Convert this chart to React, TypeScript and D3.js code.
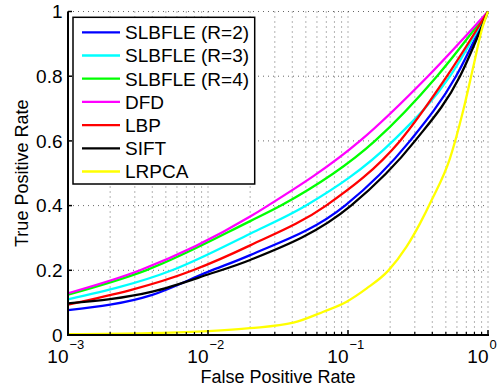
import React from "react";
import * as d3 from "d3";

const W = 501;
const H = 389;

const seriesNames = ["SLBFLE (R=2)", "SLBFLE (R=3)", "SLBFLE (R=4)", "DFD", "LBP", "SIFT", "LRPCA"];
const seriesColors = ["#0000ff", "#00ffff", "#00ff00", "#ff00ff", "#ff0000", "#000000", "#ffff00"];

// SLBFLE (R=2)
const r2Fpr = [0.001, 0.004, 0.01, 0.02, 0.0952, 0.2773, 0.5908, 1.0];
const r2Tpr = [0.077, 0.124, 0.195, 0.247, 0.4, 0.6, 0.8, 1.0];
// SLBFLE (R=3)
const r3Fpr = [0.001, 0.00553, 0.02, 0.0501, 0.2097, 0.5354, 1.0];
const r3Tpr = [0.11, 0.2, 0.313, 0.4, 0.6, 0.8, 1.0];
// SLBFLE (R=4)
const r4Fpr = [0.001, 0.0036, 0.02, 0.0332, 0.1559, 0.4322, 1.0];
const r4Tpr = [0.125, 0.2, 0.352, 0.4, 0.6, 0.8, 1.0];
// DFD
const dfdFpr = [0.001, 0.00327, 0.02, 0.0268, 0.1218, 0.3728, 1.0];
const dfdTpr = [0.129, 0.2, 0.366, 0.4, 0.6, 0.8, 1.0];
// LBP
const lbpFpr = [0.001, 0.00781, 0.02, 0.0697, 0.2352, 0.5093, 1.0];
const lbpTpr = [0.094, 0.2, 0.277, 0.4, 0.6, 0.8, 1.0];
// SIFT
const siftFpr = [0.001, 0.004, 0.01, 0.02, 0.1051, 0.3011, 0.631, 1.0];
const siftTpr = [0.098, 0.134, 0.187, 0.232, 0.4, 0.6, 0.8, 1.0];
// LRPCA
const lrpcaFpr = [0.001, 0.00385, 0.01, 0.0199, 0.0407, 0.0667, 0.0978, 0.136, 0.194, 0.262, 0.327, 0.396, 0.535, 0.667, 0.785, 0.902, 1.0];
const lrpcaTpr = [0.003, 0.006, 0.012, 0.021, 0.038, 0.072, 0.103, 0.144, 0.199, 0.273, 0.345, 0.417, 0.546, 0.696, 0.829, 0.943, 1.0];

const yTicks = [0, 0.2, 0.4, 0.6, 0.8, 1];
const yTickLabels = ["0", "0.2", "0.4", "0.6", "0.8", "1"];
const xDecades = [0.001, 0.01, 0.1, 1];
const xExponents = ["\u22123", "\u22122", "\u22121", "0"];

export default function App() {
  const left = 68, right = 488, top = 11.5, bottom = 335;
  const x = d3.scaleLog().domain([0.001, 1]).range([left, right]);
  const y = d3.scaleLinear().domain([0, 1]).range([bottom, top]);

  const series = [
    { fpr: r2Fpr, tpr: r2Tpr },
    { fpr: r3Fpr, tpr: r3Tpr },
    { fpr: r4Fpr, tpr: r4Tpr },
    { fpr: dfdFpr, tpr: dfdTpr },
    { fpr: lbpFpr, tpr: lbpTpr },
    { fpr: siftFpr, tpr: siftTpr },
    { fpr: lrpcaFpr, tpr: lrpcaTpr },
  ];

  const line = d3
    .line<[number, number]>()
    .x((d) => x(d[0]))
    .y((d) => y(d[1]))
    .curve(d3.curveMonotoneX);

  const minor: number[] = [];
  for (let k = -3; k < 0; k++) {
    for (let m = 2; m <= 9; m++) minor.push(m * Math.pow(10, k));
  }

  const font = "Arial, 'Liberation Sans', Helvetica, sans-serif";
  const gridStyle = { stroke: "#000", strokeWidth: 0.8, strokeDasharray: "1,4", strokeOpacity: 0.75 };

  const legendX = 73, legendY = 17.3, legendW = 181.7, legendH = 166.7;
  const rowY0 = 32.3, rowStep = 23.2;

  return (
    <svg
      width={W}
      height={H}
      style={{ position: "absolute", left: 0, top: 0, background: "#fff" }}
      fontFamily={font}
    >
      <rect x={0} y={0} width={W} height={H} fill="#fff" />
      {/* grid */}
      {[...xDecades, ...minor].map((v, i) => (
        <line key={"gx" + i} x1={x(v)} x2={x(v)} y1={top} y2={bottom} {...gridStyle} />
      ))}
      {yTicks.filter((v) => v > 0).map((v, i) => (
        <line key={"gy" + i} x1={left} x2={right} y1={y(v)} y2={y(v)} {...gridStyle} />
      ))}

      {/* curves */}
      {series.map((s, i) => (
        <path
          key={"s" + i}
          d={line(s.fpr.map((f, j) => [f, s.tpr[j]] as [number, number])) || ""}
          fill="none"
          stroke={seriesColors[i]}
          strokeWidth={2.3}
          strokeLinejoin="round"
        />
      ))}

      {/* axes */}
      <line x1={left} x2={left} y1={top} y2={bottom} stroke="#000" strokeWidth={2} />
      <line x1={left - 1} x2={right + 1} y1={bottom} y2={bottom} stroke="#000" strokeWidth={2} />
      {yTicks.map((v, i) => (
        <g key={"yt" + i}>
          <line x1={left} x2={left + 4} y1={y(v)} y2={y(v)} stroke="#000" strokeWidth={1.5} />
          <text x={62.5} y={y(v) + 6.8} fontSize={19} textAnchor="end" fill="#000">
            {yTickLabels[i]}
          </text>
        </g>
      ))}
      {xDecades.map((v, i) => (
        <g key={"xt" + i}>
          <line x1={x(v)} x2={x(v)} y1={bottom} y2={bottom - 5} stroke="#000" strokeWidth={1.5} />
          <text x={x(v) + 0.5} y={362.5} fontSize={19} textAnchor="end" fill="#000">
            10
          </text>
          <text x={x(v) + 1.5} y={348.5} fontSize={13} textAnchor="start" fill="#000">
            {xExponents[i]}
          </text>
        </g>
      ))}
      {minor.map((v, i) => (
        <line key={"mt" + i} x1={x(v)} x2={x(v)} y1={bottom} y2={bottom - 3} stroke="#000" strokeWidth={1.2} />
      ))}

      {/* axis labels */}
      <text x={(left + right) / 2} y={383} fontSize={18} textAnchor="middle" fill="#000">
        False Positive Rate
      </text>
      <text
        transform={`translate(27.5, ${(top + bottom) / 2}) rotate(-90)`}
        fontSize={18}
        textAnchor="middle"
        fill="#000"
      >
        True Positive Rate
      </text>

      {/* legend */}
      <rect x={legendX} y={legendY} width={legendW} height={legendH} fill="#fff" stroke="#000" strokeWidth={1.5} />
      {seriesNames.map((name, i) => {
        const ry = rowY0 + i * rowStep;
        return (
          <g key={"lg" + i}>
            <line x1={82} x2={120} y1={ry} y2={ry} stroke={seriesColors[i]} strokeWidth={2.3} />
            <text x={125} y={ry + 6.8} fontSize={19} fill="#000">
              {name}
            </text>
          </g>
        );
      })}
    </svg>
  );
}
